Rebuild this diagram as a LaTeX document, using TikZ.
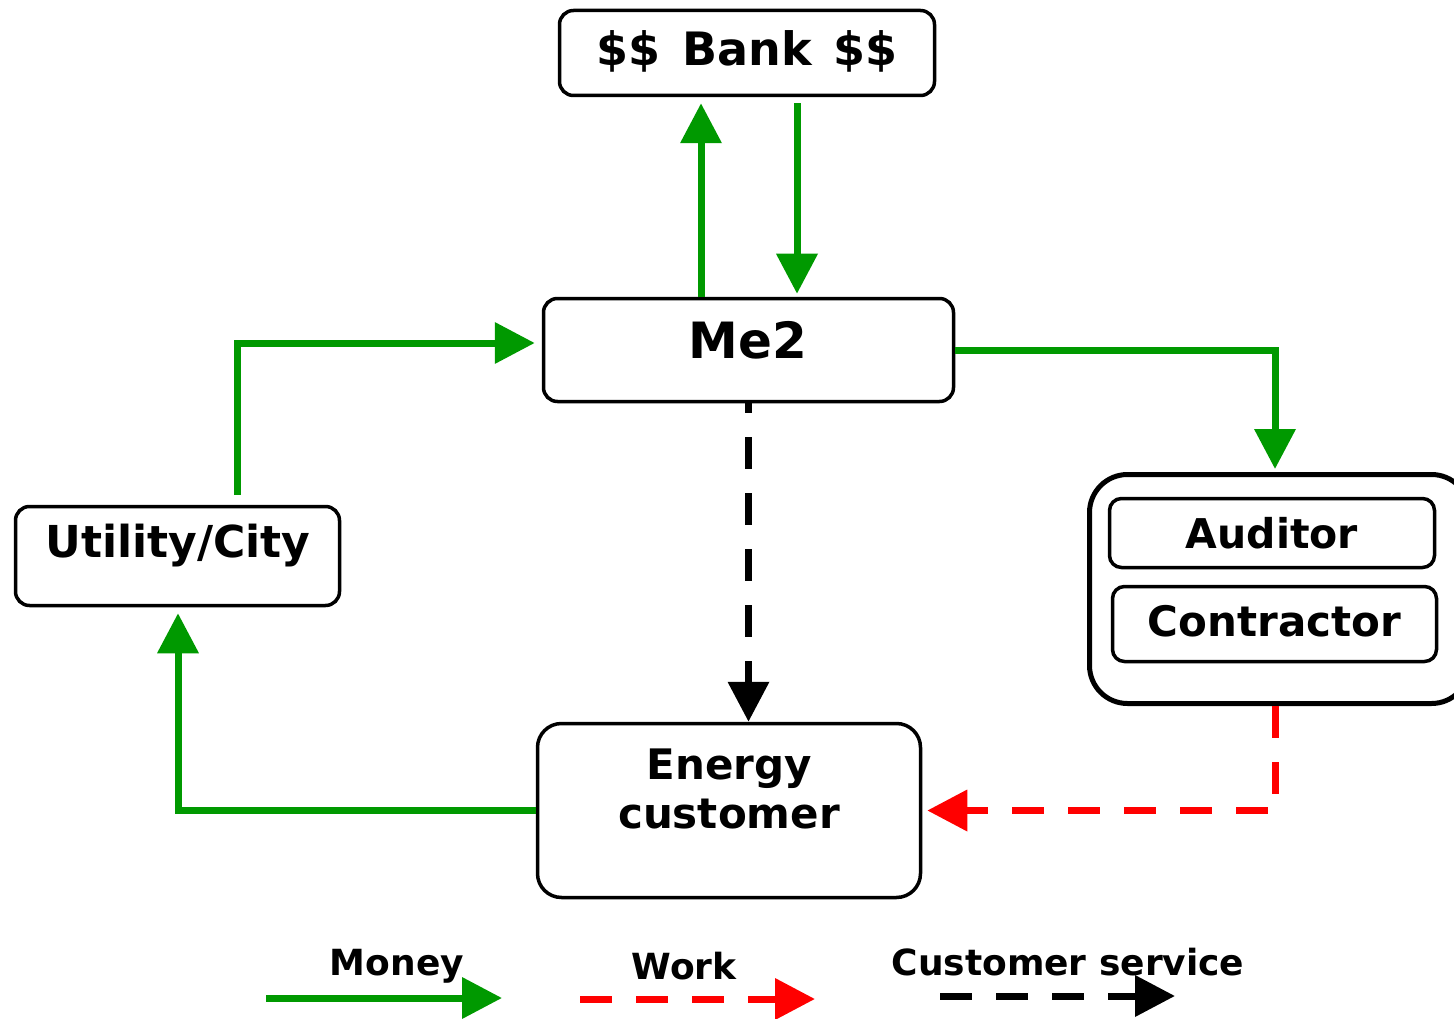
\documentclass[tikz,border=0pt]{standalone}
\usepackage{fontspec}
\setmainfont{DejaVu Sans}
\usetikzlibrary{arrows.meta}
\definecolor{mgreen}{RGB}{0,153,0}
\begin{document}
\begin{tikzpicture}[x=1pt,y=-1pt,
 box/.style={draw=black, line width=3.5pt, rounded corners=14pt, inner sep=0pt},
 lbl/.style={anchor=base, inner sep=0pt, font=\bfseries\fontsize{#1}{#1}\selectfont},
 lbl/.default=42,
 tip/.style={-{Triangle[length=40pt,width=40pt]}},
 money/.style={draw=mgreen, line width=7pt, tip},
 work/.style={draw=red, line width=7pt, dash pattern=on 32pt off 24pt, tip},
 serv/.style={draw=black, line width=7pt, dash pattern=on 32pt off 24pt, tip},
]
\useasboundingbox (0,0) rectangle (1454,1019);
\clip (0,0) rectangle (1454,1019);

% boxes
\node[box, minimum width=375pt, minimum height=85pt] (bank) at (747,53) {};
\node[box, minimum width=410pt, minimum height=103pt] (me2) at (748.5,350) {};
\node[box, minimum width=324pt, minimum height=99pt] (util) at (177.5,556) {};
\node[box, minimum width=383pt, minimum height=174pt, rounded corners=24pt] (energy) at (729,810.5) {};
\node[box, line width=5pt, rounded corners=38pt, minimum width=380pt, minimum height=229pt] (outer) at (1279.5,589) {};
\node[box, rounded corners=12pt, minimum width=325pt, minimum height=69pt] (aud) at (1272,533) {};
\node[box, rounded corners=12pt, minimum width=324pt, minimum height=75pt] (con) at (1274.5,624) {};

% labels
\node[lbl=46] (tbank) at (747,66) {\$\$\hspace{22pt}Bank\hspace{22pt}\$\$};
\node[lbl=50] (tme2) at (748,358) {Me2};
\node[lbl=44] (tutil) at (178,557) {Utility/City};
\node[lbl=41] (taud) at (1272,548) {Auditor};
\node[lbl=42] (tcon) at (1274.5,636) {Contractor};
\node[lbl=42] (ten1) at (729.5,779) {Energy};
\node[lbl=42] (ten2) at (729,828) {customer};

% helper coordinates
\coordinate (upx) at (701,0);
\coordinate (dnx) at (797,0);
\coordinate (c1) at (237,343);
\coordinate (c2) at (1275,0);
\coordinate (c3) at (178,0);

% connectors
\draw[money, shorten >=6pt] (me2.north -| upx) -- (bank.south -| upx);
\draw[money, shorten <=6pt, shorten >=3pt] (bank.south -| dnx) -- (me2.north -| dnx);
\draw[money, shorten <=10pt, shorten >=7pt] (util.north -| c1) -- (c1) -- (me2.west |- c1);
\draw[money, shorten >=3pt] (me2.east) -| (outer.north -| c2);
\draw[money, shorten >=6pt] (energy.west) -| (util.south -| c3);
\draw[work, shorten >=5pt] (outer.south -| c2) |- (energy.east);
\draw[serv, dash phase=22pt] (me2.south) -- (energy.north -| me2.south);

% legend
\node[lbl=36] (lmoney) at (397,975) {Money};
\node[lbl=36] (lwork) at (684,979) {Work};
\node[lbl=36] (lserv) at (1068,975) {Customer service};
\coordinate (m1) at (266,998); \coordinate (m2) at (502,998);
\coordinate (w1) at (580,999); \coordinate (w2) at (815,999);
\coordinate (s1) at (940,996); \coordinate (s2) at (1175,996);
\draw[money] (m1) -- (m2);
\draw[work] (w1) -- (w2);
\draw[serv] (s1) -- (s2);
\end{tikzpicture}
\end{document}
